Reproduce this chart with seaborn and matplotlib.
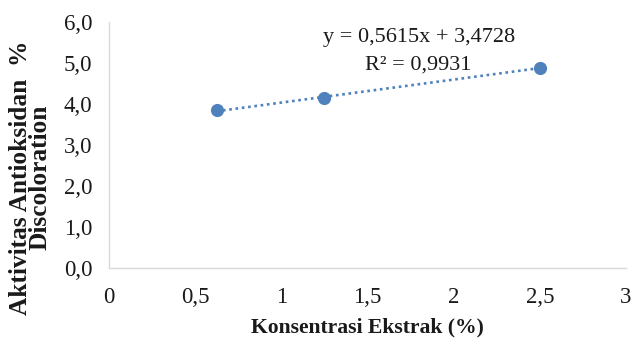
import matplotlib
matplotlib.use("Agg")
import matplotlib.pyplot as plt
import seaborn as sns
import numpy as np
import pandas as pd
from matplotlib.ticker import FuncFormatter, MultipleLocator

# Measured antioxidant activity at each extract concentration
konsentrasi = [0.625, 1.25, 2.5]
aktivitas = [3.86, 4.15, 4.89]

# Linear trend reported on the chart
slope = 0.5615
intercept = 3.4728
r_squared = 0.9931

x_ticks = [0, 0.5, 1, 1.5, 2, 2.5, 3]
y_ticks = [0, 1, 2, 3, 4, 5, 6]

sns.set_theme(style="white")
plt.rcParams["font.family"] = ["Liberation Serif", "DejaVu Serif"]

blue = "#4F81BD"
ink = "#1a1a1a"
fig = plt.figure(figsize=(6.31, 3.48), dpi=100)
ax = fig.add_axes([0.1727, 0.2299, 0.8193, 0.7069])

df = pd.DataFrame({"x": konsentrasi, "y": aktivitas})
trend = pd.DataFrame({"x": [min(konsentrasi), max(konsentrasi)]})
trend["y"] = slope * trend["x"] + intercept

sns.lineplot(data=trend, x="x", y="y", ax=ax, color=blue, linestyle=(0, (1, 1.4)),
             linewidth=1.9, zorder=2)
sns.scatterplot(data=df, x="x", y="y", ax=ax, color=blue, s=90, edgecolor=blue,
                linewidth=0, zorder=3)

ax.set_xlim(0, 3)
ax.set_ylim(0, 6)
ax.set_xticks(x_ticks)
ax.set_yticks(y_ticks)

comma = lambda fmt: FuncFormatter(lambda v, p: fmt(v).replace(".", ","))
ax.xaxis.set_major_formatter(comma(lambda v: f"{v:g}"))
ax.yaxis.set_major_formatter(comma(lambda v: f"{v:.1f}"))
ax.tick_params(axis="both", length=0, labelsize=16.5, colors=ink)
ax.tick_params(axis="x", pad=14)
ax.tick_params(axis="y", pad=12)

for side in ["top", "right"]:
    ax.spines[side].set_visible(False)
for side in ["left", "bottom"]:
    ax.spines[side].set_color("#D9D9D9")
    ax.spines[side].set_linewidth(1.0)

ax.set_xlabel("")
ax.set_ylabel("")
fig.text(0.583, 0.06, "Konsentrasi Ekstrak (%)", ha="center", va="center",
         fontsize=15.6, fontweight="bold", color=ink)
fig.text(0.048, 0.49, "Aktivitas Antioksidan  %\nDiscoloration", ha="center",
         va="center", rotation=90, fontsize=18.3, fontweight="bold",
         color=ink, linespacing=0.82, multialignment="center")

eq = f"y = {slope:.4f}x + {intercept:.4f}".replace(".", ",")
r2 = f"R² = {r_squared:.4f}".replace(".", ",")
fig.text(0.664, 0.891, eq, ha="center", va="center", fontsize=16, color=ink)
fig.text(0.662, 0.814, r2, ha="center", va="center", fontsize=16, color=ink)

fig.savefig("out.png", dpi=100)
